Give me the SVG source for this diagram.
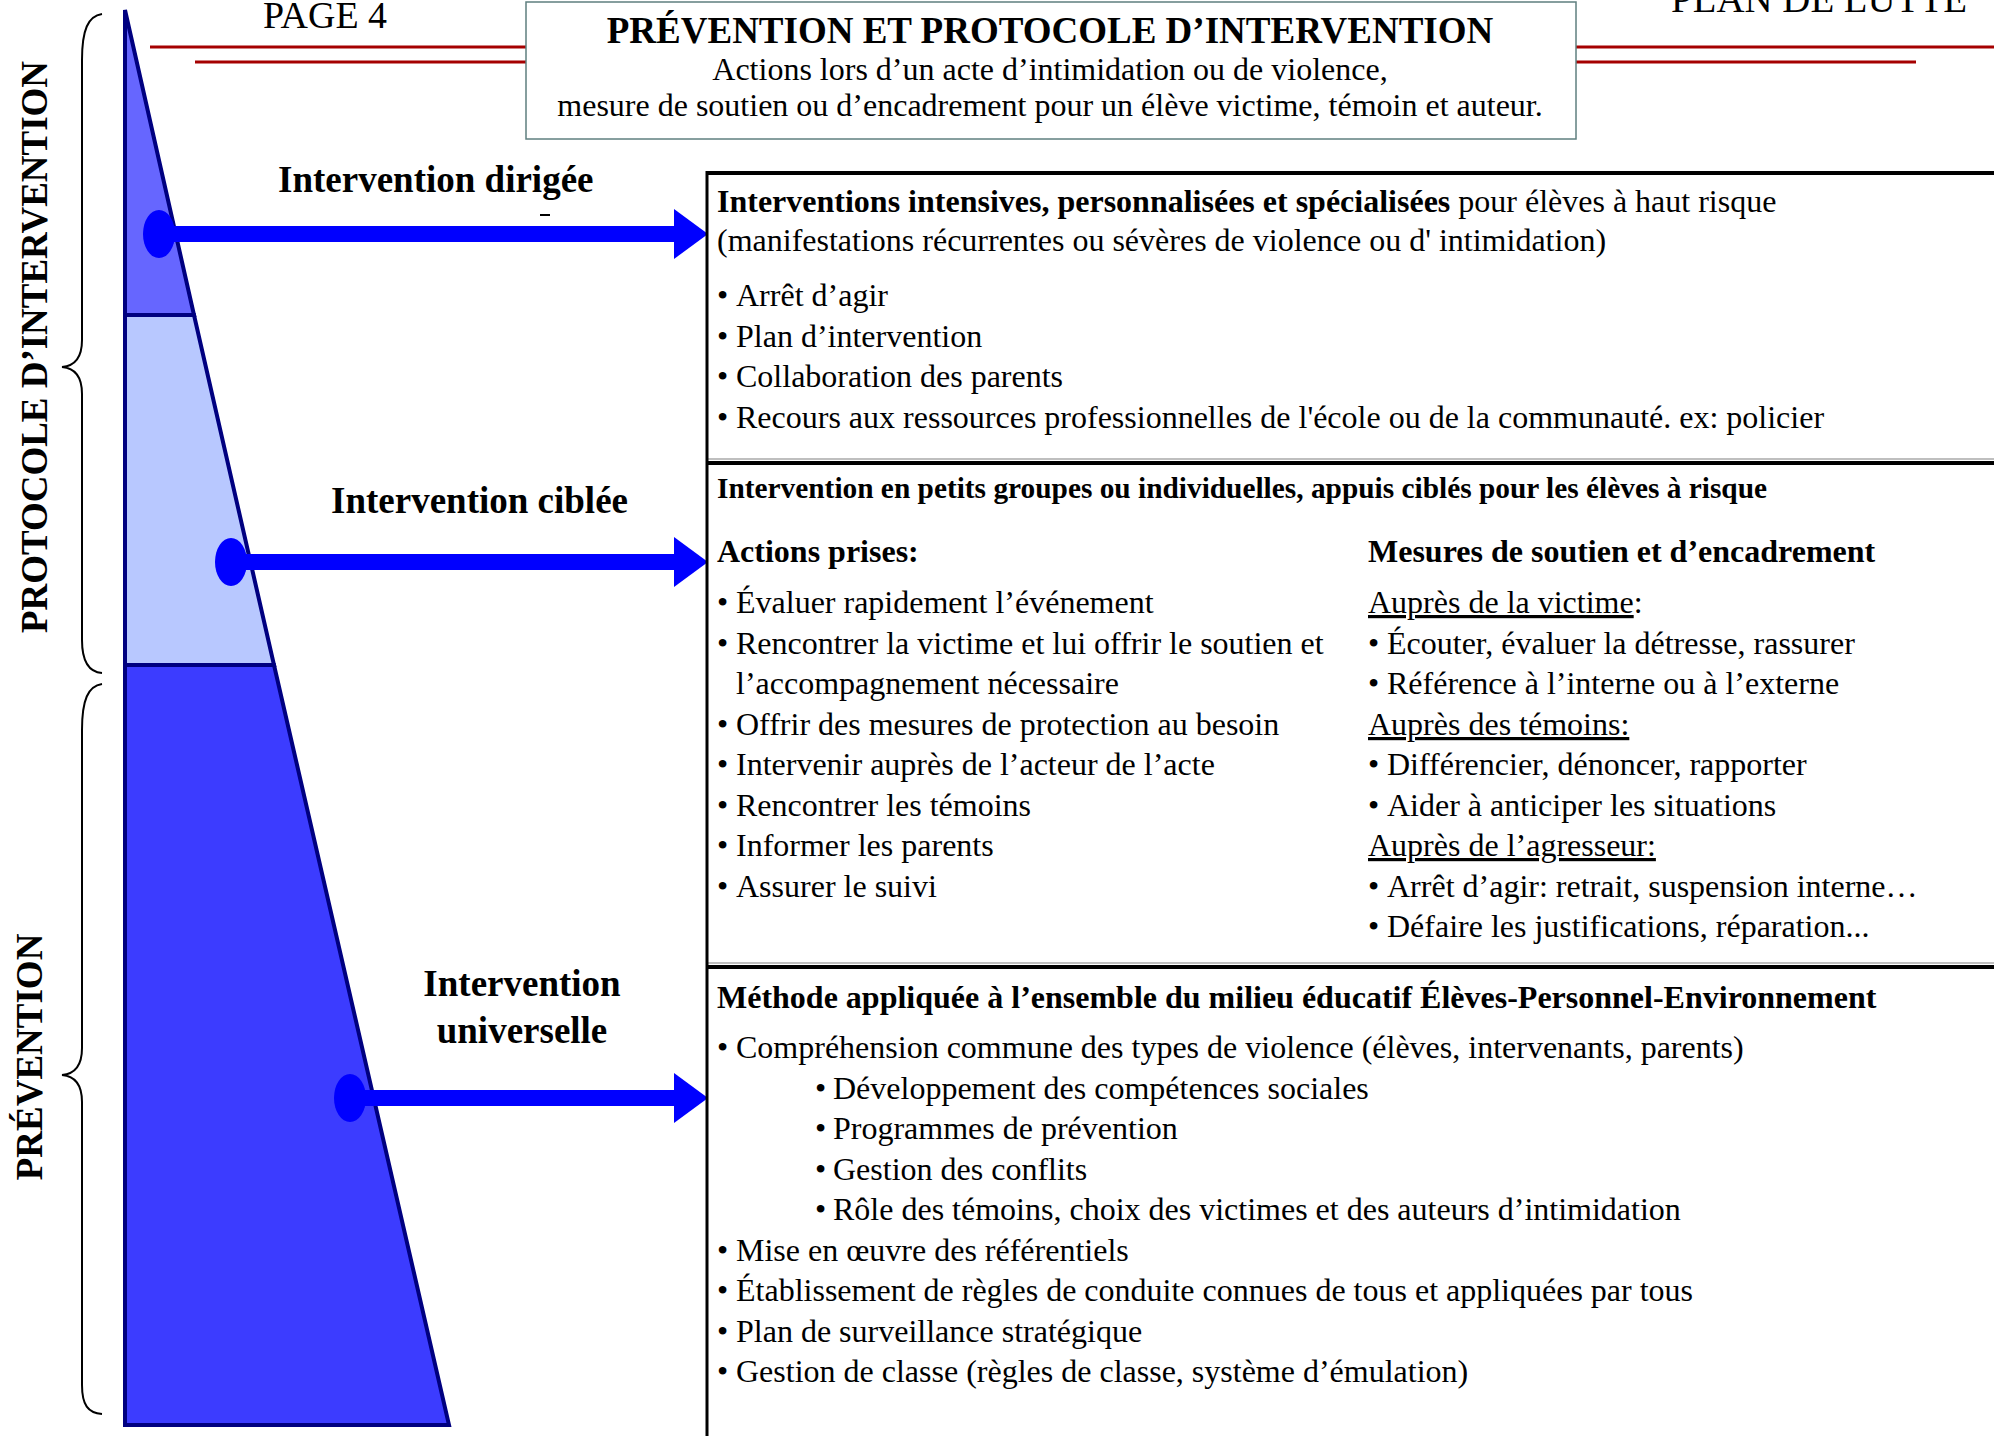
<svg xmlns="http://www.w3.org/2000/svg" width="1994" height="1436" viewBox="0 0 1994 1436">
<defs>
<style>
text{font-family:"Liberation Serif","Times New Roman",serif;fill:#000}
.b{font-weight:bold}
.t29{font-size:32px}
.lbl{font-size:37px;font-weight:bold}
.side{font-size:37px;font-weight:bold}
.red{stroke:#a50000;stroke-width:3;fill:none}
.brace{stroke:#000;stroke-width:2;fill:none}
.pyr{stroke:#000080;stroke-width:4;stroke-linejoin:miter}
.shaft{stroke:#0000ff;stroke-width:16;fill:none}
.dot{fill:#0000ff}
.u{text-decoration:underline}
</style>
<marker id="ah" markerUnits="userSpaceOnUse" markerWidth="34" markerHeight="50" viewBox="0 0 34 50" refX="0" refY="25" orient="auto">
<path d="M0,0 L34,25 L0,50 Z" fill="#0000ff"/>
</marker>
</defs>
<rect width="1994" height="1436" fill="#fff"/>

<g id="header">
<line class="red" x1="150" y1="47" x2="1994" y2="47"/>
<line class="red" x1="195" y1="62" x2="1916" y2="62"/>
<text x="263" y="28" style="font-size:38px" textLength="124" lengthAdjust="spacingAndGlyphs">PAGE 4</text>
<text x="1671" y="12" style="font-size:37px" textLength="296" lengthAdjust="spacingAndGlyphs">PLAN DE LUTTE</text>
</g>

<g id="title">
<rect x="526" y="2" width="1050" height="137" fill="#fff" stroke="#5f7f7f" stroke-width="1.5"/>
<text x="1050" y="43" text-anchor="middle" class="b" style="font-size:37px">PRÉVENTION ET PROTOCOLE D’INTERVENTION</text>
<text x="1050" y="80" text-anchor="middle" class="t29">Actions lors d’un acte d’intimidation ou de violence,</text>
<text x="1050" y="116" text-anchor="middle" class="t29">mesure de soutien ou d’encadrement pour un élève victime, témoin et auteur.</text>
</g>

<g id="side-labels">
<path class="brace" d="M102,14 C88,16 82,30 82,60 L82,340 C82,358 74,366 62,367 C74,368 82,376 82,394 L82,640 C82,660 88,672 102,673"/>
<path class="brace" d="M102,684 C88,686 82,700 82,730 L82,1048 C82,1066 74,1074 62,1075 C74,1076 82,1084 82,1102 L82,1385 C82,1405 88,1413 102,1414"/>
<text class="side" transform="translate(47,347) rotate(-90)" text-anchor="middle" textLength="572" lengthAdjust="spacingAndGlyphs">PROTOCOLE D’INTERVENTION</text>
<text class="side" transform="translate(42,1057) rotate(-90)" text-anchor="middle">PRÉVENTION</text>
</g>

<g id="pyramid">
<polygon class="pyr" fill="#3c3cff" points="125,665 274,665 449,1425 125,1425"/>
<polygon class="pyr" fill="#b8c8ff" points="125,315 194,315 274,665 125,665"/>
<polygon class="pyr" fill="#6666ff" points="125,10 194,315 125,315"/>
</g>

<g id="level-labels">
<text class="lbl" x="278" y="192">Intervention dirigée</text>
<rect x="540" y="214" width="10" height="2" fill="#000"/>
<text class="lbl" x="331" y="513">Intervention ciblée</text>
<text class="lbl" x="522" y="996" text-anchor="middle">Intervention</text>
<text class="lbl" x="522" y="1043" text-anchor="middle">universelle</text>
</g>

<g id="connectors">
<ellipse class="dot" cx="159" cy="234" rx="16" ry="24"/>
<line class="shaft" x1="159" y1="234" x2="674" y2="234" marker-end="url(#ah)"/>
<ellipse class="dot" cx="231" cy="562" rx="16" ry="24"/>
<line class="shaft" x1="231" y1="562" x2="674" y2="562" marker-end="url(#ah)"/>
<ellipse class="dot" cx="350" cy="1098" rx="16" ry="24"/>
<line class="shaft" x1="350" y1="1098" x2="674" y2="1098" marker-end="url(#ah)"/>
</g>

<g id="panel-frame">
<line x1="707" y1="173" x2="1994" y2="173" stroke="#000" stroke-width="4"/>
<line x1="707" y1="459" x2="1994" y2="459" stroke="#aaa" stroke-width="1.5"/>
<line x1="707" y1="463" x2="1994" y2="463" stroke="#000" stroke-width="4"/>
<line x1="707" y1="963" x2="1994" y2="963" stroke="#aaa" stroke-width="1.5"/>
<line x1="707" y1="967" x2="1994" y2="967" stroke="#000" stroke-width="4"/>
<line x1="707" y1="171" x2="707" y2="1436" stroke="#000" stroke-width="3"/>
</g>

<g id="panel-dirigee" class="t29">
<text x="717" y="212"><tspan class="b">Interventions intensives, personnalisées et spécialisées</tspan> pour élèves à haut risque</text>
<text x="717" y="251">(manifestations récurrentes ou sévères de violence ou d' intimidation)</text>
<text x="717" y="306">•</text><text x="736" y="306">Arrêt d’agir</text>
<text x="717" y="347">•</text><text x="736" y="347">Plan d’intervention</text>
<text x="717" y="387">•</text><text x="736" y="387">Collaboration des parents</text>
<text x="717" y="428">•</text><text x="736" y="428">Recours aux ressources professionnelles de l'école ou de la communauté. ex: policier</text>
</g>

<g id="panel-ciblee" class="t29">
<text x="717" y="498" class="b" style="font-size:29px" textLength="1050" lengthAdjust="spacingAndGlyphs">Intervention en petits groupes ou individuelles, appuis ciblés pour les élèves à risque</text>
<text x="717" y="562" class="b">Actions prises:</text>
<text x="1368" y="562" class="b">Mesures de soutien et d’encadrement</text>
<text x="717" y="613">•</text><text x="736" y="613">Évaluer rapidement l’événement</text>
<text x="717" y="654">•</text><text x="736" y="654">Rencontrer la victime et lui offrir le soutien et</text>
<text x="736" y="694">l’accompagnement nécessaire</text>
<text x="717" y="735">•</text><text x="736" y="735">Offrir des mesures de protection au besoin</text>
<text x="717" y="775">•</text><text x="736" y="775">Intervenir auprès de l’acteur de l’acte</text>
<text x="717" y="816">•</text><text x="736" y="816">Rencontrer les témoins</text>
<text x="717" y="856">•</text><text x="736" y="856">Informer les parents</text>
<text x="717" y="897">•</text><text x="736" y="897">Assurer le suivi</text>
<text x="1368" y="613"><tspan class="u">Auprès de la victime</tspan>:</text>
<text x="1368" y="654">•</text><text x="1387" y="654">Écouter, évaluer la détresse, rassurer</text>
<text x="1368" y="694">•</text><text x="1387" y="694">Référence à l’interne ou à l’externe</text>
<text x="1368" y="735" class="u">Auprès des témoins:</text>
<text x="1368" y="775">•</text><text x="1387" y="775">Différencier, dénoncer, rapporter</text>
<text x="1368" y="816">•</text><text x="1387" y="816">Aider à anticiper les situations</text>
<text x="1368" y="856" class="u">Auprès de l’agresseur:</text>
<text x="1368" y="897">•</text><text x="1387" y="897">Arrêt d’agir: retrait, suspension interne…</text>
<text x="1368" y="937">•</text><text x="1387" y="937">Défaire les justifications, réparation...</text>
</g>

<g id="panel-universelle" class="t29">
<text x="717" y="1008" class="b">Méthode appliquée à l’ensemble du milieu éducatif Élèves-Personnel-Environnement</text>
<text x="717" y="1058">•</text><text x="736" y="1058">Compréhension commune des types de violence (élèves, intervenants, parents)</text>
<text x="815" y="1099">•</text><text x="833" y="1099">Développement des compétences sociales</text>
<text x="815" y="1139">•</text><text x="833" y="1139">Programmes de prévention</text>
<text x="815" y="1180">•</text><text x="833" y="1180">Gestion des conflits</text>
<text x="815" y="1220">•</text><text x="833" y="1220">Rôle des témoins, choix des victimes et des auteurs d’intimidation</text>
<text x="717" y="1261">•</text><text x="736" y="1261">Mise en œuvre des référentiels</text>
<text x="717" y="1301">•</text><text x="736" y="1301">Établissement de règles de conduite connues de tous et appliquées par tous</text>
<text x="717" y="1342">•</text><text x="736" y="1342">Plan de surveillance stratégique</text>
<text x="717" y="1382">•</text><text x="736" y="1382">Gestion de classe (règles de classe, système d’émulation)</text>
</g>
</svg>
